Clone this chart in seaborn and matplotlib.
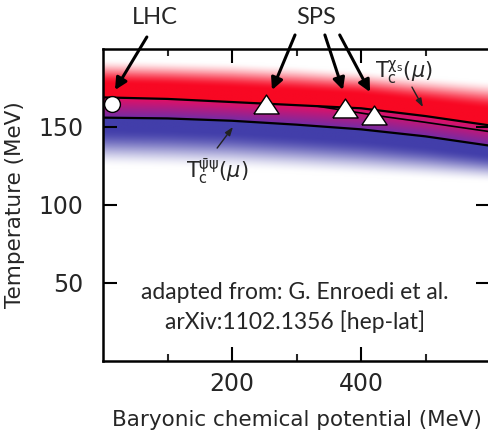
import numpy as np
import matplotlib
matplotlib.use("Agg")
import matplotlib.pyplot as plt
import seaborn as sns

# Phase-boundary curves (baryonic chemical potential in MeV -> temperature in MeV)
mu_nodes = [0, 100, 200, 300, 400, 500, 600]
tc_chi = [169, 168, 166, 164, 162, 157, 151]              # T_c from strange susceptibility
tc_psi = [156, 155.5, 154, 151.5, 148.5, 144, 138]        # T_c from chiral condensate
mu_branch = [330, 430, 500, 600]
tc_chi_branch = [163.5, 157, 153, 147]                    # lower edge of the chi_s estimate

# Band fade limits
fade_top = [194, 193, 192, 190, 187, 183, 180]
fade_bottom = [124, 123, 122, 120, 118, 116, 114]

# Freeze-out points
lhc_mu = [14]
lhc_T = [165]
sps_mu = [253, 375, 420]
sps_T = [165, 162, 157.7]

x_ticks = [200, 400]
x_minor = [100, 300, 500]
y_ticks = [50, 100, 150]

sns.set_style("ticks")
plt.rcParams["font.family"] = ["DejaVu Sans"]
plt.rcParams["mathtext.fontset"] = "dejavusans"

fig = plt.figure(figsize=(4.88, 4.34), dpi=100)
ax = fig.add_axes([103 / 488, 73 / 434, 387 / 488, 312 / 434])


def smoothstep(e0, e1, x):
    u = np.clip((x - e0) / (e1 - e0), 0, 1)
    return u * u * (3 - 2 * u)


# Coloured transition band
mu = np.linspace(0, 600, 601)
T = np.linspace(0, 200, 401)
MU, TT = np.meshgrid(mu, T)
up = np.interp(MU, mu_nodes, tc_chi)
lo = np.interp(MU, mu_nodes, tc_psi)
top = np.interp(MU, mu_nodes, fade_top)
bot = np.interp(MU, mu_nodes, fade_bottom)

rgb = np.ones(MU.shape + (3,))
red = np.array([248, 8, 35]) / 255
blue = np.array([66, 62, 170]) / 255
pink = np.array([228, 15, 100]) / 255
purple = np.array([110, 45, 168]) / 255

above = TT >= up
d = np.clip((TT - up) / (top - up), 0, None)
a = 1 - smoothstep(0.35, 1.0, d)
rgb[above] = (a[above, None] * red + (1 - a[above, None]) * 1.0)

below = TT < lo
d = np.clip((lo - TT) / (lo - bot), 0, None)
a = 1 - smoothstep(0.22, 1.0, d)
rgb[below] = (a[below, None] * blue + (1 - a[below, None]) * 1.0)

mid = (~above) & (~below)
t = np.clip((up - TT) / (up - lo), 0, 1)
rgb[mid] = (1 - t[mid, None]) * pink + t[mid, None] * purple

ax.imshow(rgb, extent=[0, 600, 0, 200], origin="lower", aspect="auto",
          interpolation="bilinear", zorder=0)

# Boundary lines
sns.lineplot(x=mu_nodes, y=tc_chi, color="black", lw=1.6, ax=ax, zorder=3)
sns.lineplot(x=mu_branch, y=tc_chi_branch, color="black", lw=1.2, ax=ax, zorder=3)
sns.lineplot(x=mu_nodes, y=tc_psi, color="black", lw=1.6, ax=ax, zorder=3)

# Freeze-out markers
tri = [(-1, -0.75), (1, -0.75), (0, 0.75), (-1, -0.75)]
sns.scatterplot(x=lhc_mu, y=lhc_T, marker="o", s=130, color="white",
                edgecolor="black", linewidth=1.0, ax=ax, zorder=5, clip_on=False)
sns.scatterplot(x=sps_mu, y=sps_T, marker=tri, s=330, color="white",
                edgecolor="black", linewidth=1.0, ax=ax, zorder=5)

# Annotations
big_arrow = dict(arrowstyle="-|>,head_length=0.7,head_width=0.35", color="black", lw=2.2,
                 shrinkA=0, shrinkB=0)
ax.annotate("", xy=(18.6, 173.7), xytext=(68, 207.7), arrowprops=big_arrow,
            annotation_clip=False, zorder=6)
ax.annotate("", xy=(262, 173.7), xytext=(297.7, 209), arrowprops=big_arrow,
            annotation_clip=False, zorder=6)
ax.annotate("", xy=(372, 173.7), xytext=(344, 209), arrowprops=big_arrow,
            annotation_clip=False, zorder=6)
ax.annotate("", xy=(414, 172.4), xytext=(367, 209), arrowprops=big_arrow,
            annotation_clip=False, zorder=6)
ax.text(80, 220.5, "LHC", ha="center", va="center", fontsize=17, family=["Lato"],
        clip_on=False)
ax.text(330, 220.5, "SPS", ha="center", va="center", fontsize=17, family=["Lato"],
        clip_on=False)

small_arrow = dict(arrowstyle="-|>,head_length=0.5,head_width=0.18", color="#222222",
                   lw=1.0, shrinkA=0, shrinkB=0)
ax.text(466, 185, r"$\mathrm{T_c^{\chi_s}}(\mu)$", ha="center", va="center", fontsize=15)
ax.annotate("", xy=(496, 162.8), xytext=(479, 175.6), arrowprops=small_arrow, zorder=6)
ax.text(178, 122, r"$\mathrm{T_c^{\bar{\psi}\psi}}(\mu)$", ha="center", va="center",
        fontsize=15)
ax.annotate("", xy=(201.5, 150), xytext=(177, 136.5), arrowprops=small_arrow, zorder=6)

ax.text(298, 43.6, "adapted from: G. Enroedi et al.", ha="center", va="center",
        fontsize=16.5, family=["Lato"])
ax.text(298, 25, "arXiv:1102.1356 [hep-lat]", ha="center", va="center",
        fontsize=16.5, family=["Lato"])

# Axes styling
ax.set_xlim(0, 600)
ax.set_ylim(0, 200)
ax.set_xticks(x_ticks)
ax.set_xticks(x_minor, minor=True)
ax.set_yticks(y_ticks)
ax.tick_params(axis="both", which="major", direction="in", top=True, right=True,
               length=10, width=1.5, labelsize=17, color="black")
ax.tick_params(axis="x", which="major", pad=8)
ax.tick_params(axis="y", which="major", pad=14)
ax.tick_params(axis="x", which="minor", direction="in", top=True, bottom=True,
               length=5, width=1.5)
for s in ax.spines.values():
    s.set_linewidth(1.8)
    s.set_color("black")
    s.set_zorder(7)

ax.set_xlabel("Baryonic chemical potential (MeV)", fontsize=15.5, labelpad=10)
ax.set_ylabel("Temperature (MeV)", fontsize=15.5, labelpad=10)

fig.savefig("out.png", dpi=100)
